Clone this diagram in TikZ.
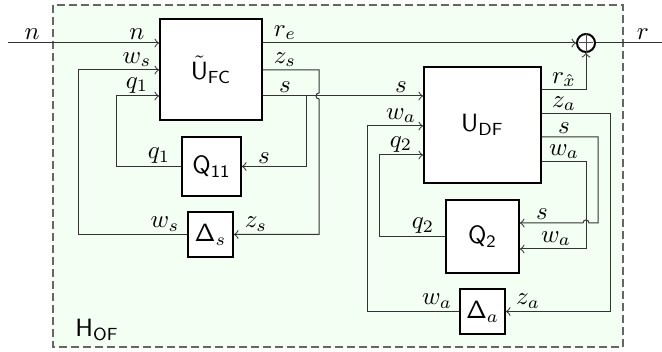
\documentclass[tikz,border=0pt]{standalone}
\usetikzlibrary{calc}

\begin{document}
\begin{tikzpicture}[
        x=0.4pt, y=-0.4pt,
        block/.style={rectangle, draw=black, fill=white, thick, inner sep=0pt},
        sumnode/.style={circle, draw=black, fill=white, thick, minimum size=7.2pt, inner sep=0pt},
        frame/.style={draw=black!60, dash pattern=on 3.2pt off 1.6pt, semithick, fill=green!5},
        wire/.style={draw=black!80},
        arrow/.style={wire, ->},
        lbl/.style={above, inner sep=1pt},
        lin/.style={lbl, xshift=-8.8pt},
        lout/.style={lbl, xshift=8.8pt}
    ]
        \useasboundingbox (0,0) rectangle (662,352);
        \path[frame] (53,5) rectangle (623,347);
        \node[anchor=base west, inner sep=0pt] (hof) at (75,337) {$\mathsf{H}_{\mathsf{OF}}$};

        % Nodes
        \node[block, minimum width=40.8pt, minimum height=40.4pt] (ufc) at (211,69.5) {$\tilde{\mathsf{U}}_{\mathsf{FC}}$};
        \node[block, minimum width=46.8pt, minimum height=46.4pt] (udf) at (482.5,125) {$\mathsf{U}_{\mathsf{DF}}$};
        \node[block, minimum size=23.6pt] (q11) at (211.5,166.5) {$\mathsf{Q}_{\mathsf{11}}$};
        \node[block, minimum size=18pt] (ds) at (210.5,234.5) {$\mathsf{\Delta}_s$};
        \node[block, minimum size=29.2pt] (q2) at (482.5,236.5) {$\mathsf{Q}_{\mathsf{2}}$};
        \node[block, minimum size=18pt] (da) at (482.5,311.5) {$\mathsf{\Delta}_a$};
        \node[sumnode] (sum) at (586,43) {};
        \draw[black!70, shorten <=1.2pt, shorten >=1.2pt] (sum.north) -- (sum.south) (sum.west) -- (sum.east);

        % Corners
        \coordinate (nin) at (8,43);
        \coordinate (rout) at (662,43);
        \coordinate (sbr) at (306,96);
        \coordinate (q1c) at (116,96);
        \coordinate (zsc) at (319,70);
        \coordinate (wsc) at (78,70);
        \coordinate (zac) at (610,114);
        \coordinate (sac) at (598,137);
        \coordinate (wdc) at (586,162);
        \coordinate (q2c) at (379,155);
        \coordinate (wac) at (367,126);

        % Arrows
        \draw[arrow] (nin) -- node[lbl, pos=0.16] {$n$} (ufc.west |- nin) node[lin] {$n$};
        \draw[arrow] (ufc.east |- nin) node[lout] {$r_e$} -- (sum.west);
        \draw[wire] (sum.east) -- node[lbl, pos=0.71] {$r$} (rout);
        \draw[arrow] (ufc.east |- sbr) node[lout] {$s$} -- (udf.west |- sbr) node[lin] {$s$};
        \draw[arrow] (sbr) |- (q11.east) node[lout] {$s$};
        \draw[arrow] (q11.west) node[lin] {$q_1$} -| (q1c) -- (ufc.west |- q1c) node[lin] {$q_1$};
        \draw[arrow] (ufc.east |- zsc) node[lout] {$z_s$} -- (zsc) -- (319,93)
            .. controls (315,93) and (315,99) .. (319,99) |- (ds.east) node[lout] {$z_s$};
        \draw[arrow] (ds.west) node[lin] {$w_s$} -| (wsc) -- (ufc.west |- wsc) node[lin] {$w_s$};

        \draw[arrow] (udf.east |- 0,90) node[lout] {$r_{\hat{x}}$} -| (sum.south);
        \draw[arrow] (udf.east |- zac) node[lout] {$z_a$} -- (zac) |- (da.east) node[lout] {$z_a$};
        \draw[arrow] (udf.east |- sac) node[lout] {$s$} -- (sac) -- (598,223) -- (589,223)
            .. controls (589,219) and (583,219) .. (583,223) -- (q2.east |- 0,223) node[lout] {$s$};
        \draw[arrow] (udf.east |- wdc) node[lout] {$w_a$} -- (wdc) |- (q2.east |- 0,249) node[lout, xshift=5.6pt] {$w_a$};
        \draw[arrow] (q2.west) node[lin] {$q_2$} -| (q2c) -- (udf.west |- q2c) node[lin] {$q_2$};
        \draw[arrow] (da.west) node[lin] {$w_a$} -| (wac) -- (udf.west |- wac) node[lin] {$w_a$};
    \end{tikzpicture}
\end{document}
